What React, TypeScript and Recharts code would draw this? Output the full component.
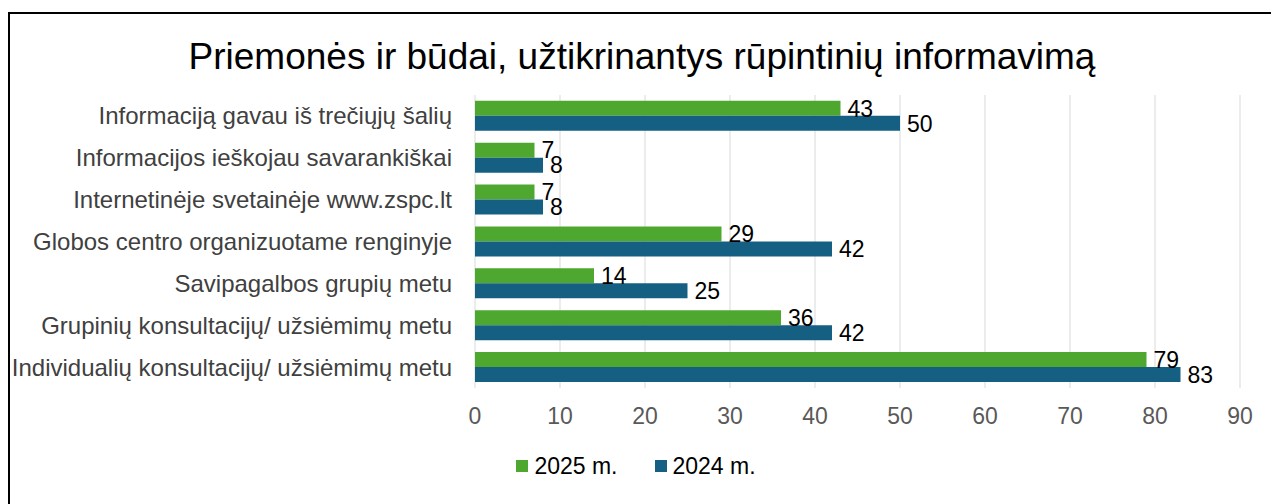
import React from "react";
import { BarChart, Bar, XAxis, YAxis, CartesianGrid, Legend, LabelList } from "recharts";

const categories = [
  "Informaciją gavau iš trečiųjų šalių",
  "Informacijos ieškojau savarankiškai",
  "Internetinėje svetainėje www.zspc.lt",
  "Globos centro organizuotame renginyje",
  "Savipagalbos grupių metu",
  "Grupinių konsultacijų/ užsiėmimų metu",
  "Individualių konsultacijų/ užsiėmimų metu",
];
const values2025 = [43, 7, 7, 29, 14, 36, 79];
const values2024 = [50, 8, 8, 42, 25, 42, 83];
const xTicks = [0, 10, 20, 30, 40, 50, 60, 70, 80, 90];

const GREEN = "#4ea72e";
const BLUE = "#156082";
const FONT = "'Liberation Sans', Arial, sans-serif";

const data = categories.map((name, i) => ({ name, y2025: values2025[i], y2024: values2024[i] }));

const legendItems = [
  { label: "2025 m.", color: GREEN },
  { label: "2024 m.", color: BLUE },
];

const LegendContent = () => (
  <div style={{ display: "flex", justifyContent: "center", fontFamily: FONT, fontSize: 23, color: "#000", lineHeight: "26px" }}>
    {legendItems.map((it, i) => (
      <div key={it.label} style={{ display: "flex", alignItems: "center", marginRight: i < legendItems.length - 1 ? 37 : 0 }}>
        <span style={{ display: "inline-block", width: 12, height: 12, background: it.color, marginRight: 6 }} />
        <span>{it.label}</span>
      </div>
    ))}
  </div>
);

export default function App() {
  return (
    <div
      style={{
        position: "relative",
        top: 4,
        width: 1268,
        height: 500,
        boxSizing: "border-box",
        border: "2px solid #000",
        background: "#fff",
        fontFamily: FONT,
      }}
    >
      <div
        style={{
          position: "absolute",
          top: 22,
          left: 0,
          width: 1264,
          textAlign: "center",
          fontSize: 37,
          lineHeight: "42px",
          color: "#000",
        }}
      >
        Priemonės ir būdai, užtikrinantys rūpintinių informavimą
      </div>
      <div style={{ position: "absolute", top: 0, left: 0 }}>
        <BarChart
          width={1264}
          height={490}
          data={data}
          layout="vertical"
          margin={{ top: 81, right: 34, bottom: 66, left: 0 }}
          barCategoryGap="14%"
          barGap={0}
        >
          <CartesianGrid horizontal={false} stroke="#d9d9d9" />
          <XAxis
            type="number"
            domain={[0, 90]}
            ticks={xTicks}
            interval={0}
            axisLine={false}
            tickLine={false}
            tickSize={0}
            tickMargin={20}
            height={50}
            fontSize={23}
            tick={{ fill: "#595959", fontSize: 23, fontFamily: FONT }}
          />
          <YAxis
            type="category"
            dataKey="name"
            width={465}
            axisLine={false}
            tickLine={false}
            tickSize={0}
            tickMargin={23}
            interval={0}
            fontSize={24}
            tick={{ fill: "#404040", fontSize: 24, fontFamily: FONT }}
          />
          <Legend
            layout="horizontal"
            align="center"
            verticalAlign="middle"
            wrapperStyle={{ top: 439, left: -6, width: 1264 }}
            content={<LegendContent />}
          />
          <Bar dataKey="y2025" name="2025 m." fill={GREEN} isAnimationActive={false}>
            <LabelList dataKey="y2025" position="right" offset={7} fill="#000" fontSize={23} fontFamily={FONT} />
          </Bar>
          <Bar dataKey="y2024" name="2024 m." fill={BLUE} isAnimationActive={false}>
            <LabelList dataKey="y2024" position="right" offset={7} fill="#000" fontSize={23} fontFamily={FONT} />
          </Bar>
        </BarChart>
      </div>
    </div>
  );
}
